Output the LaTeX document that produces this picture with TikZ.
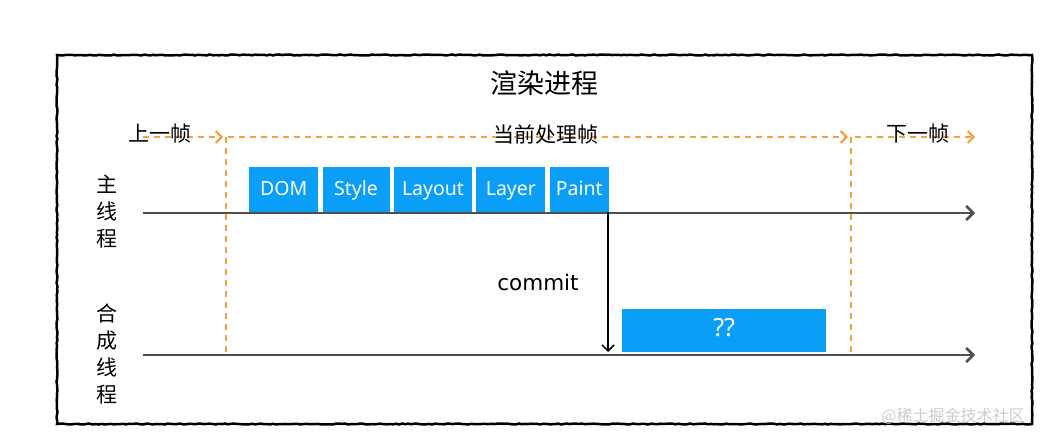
\documentclass[tikz,border=0pt]{standalone}
\usepackage{fontspec}
\setmainfont{Noto Sans}
\newfontfamily\cjk{Noto Sans CJK SC}
\newfontfamily\commitfont{DejaVu Sans}

\usetikzlibrary{positioning,arrows.meta,decorations.pathmorphing}

\definecolor{stageblue}{RGB}{10,158,247}
\definecolor{frameorange}{RGB}{245,160,60}
\definecolor{axisgray}{RGB}{80,80,80}

\tikzset{
  stage/.style={fill=stageblue, text=white, minimum height=45pt, inner sep=0pt,
    text height=15pt, text depth=2pt, font=\fontsize{19.5}{19.5}\selectfont},
  framedash/.style={frameorange, line width=2pt, dash pattern=on 6pt off 5pt},
  framearrow/.style={framedash, -{Straight Barb[length=6pt,width=12pt,line width=2pt]}},
  timeline/.style={axisgray, line width=2.5pt, -{Straight Barb[length=7pt,width=14pt,line width=2.5pt]}},
  cjklabel/.style={font=\cjk\fontsize{21}{27}\selectfont, align=center},
}

\begin{document}
\begin{tikzpicture}[x=1pt, y=-1pt]
\useasboundingbox (0,0) rectangle (1051,443);

% frame and title
\draw[line width=2.5pt, decorate,
  decoration={random steps, segment length=3pt, amplitude=0.5pt}]
  (57,55) rectangle (1032,424);
\node[font=\cjk\fontsize{27}{27}\selectfont] (title) at (544,83) {渲染进程};

% frame borders
\coordinate (prevstart) at (143,137);
\coordinate (curtop) at (226,137);
\coordinate (curbot) at (226,355);
\coordinate (nexttop) at (851,137);
\coordinate (nextbot) at (851,355);
\coordinate (nextend) at (975,137);

\draw[framedash] (curtop) -- (curbot);
\draw[framedash] (nexttop) -- (nextbot);
\draw[framearrow] (prevstart) -- ([xshift=-3pt]curtop);
\draw[framearrow] ([xshift=2pt]curtop) -- ([xshift=-3pt]nexttop);
\draw[framearrow] ([xshift=4pt]nexttop) -- (nextend);

\node[cjklabel] (prev) at (160,134) {上一帧};
\node[cjklabel] (cur) at (546,134) {当前处理帧};
\node[cjklabel] (next) at (918,134) {下一帧};

% threads
\coordinate (mainstart) at (143,213);
\coordinate (mainend) at (975,213);
\coordinate (compstart) at (143,355);
\coordinate (compend) at (975,355);

\draw[timeline] (mainstart) -- (mainend);
\draw[timeline] (compstart) -- (compend);

\node[cjklabel] (mainlabel) at (107,212) {主\\线\\程};
\node[cjklabel] (complabel) at (107,354) {合\\成\\线\\程};

% main thread stages
\node[stage, anchor=south west, minimum width=69pt] (dom) at (249,212) {DOM};
\node[stage, minimum width=67pt, right=4pt of dom] (style) {Style};
\node[stage, minimum width=78pt, right=4pt of style] (layout) {Layout};
\node[stage, minimum width=69pt, right=4pt of layout] (layer) {Layer};
\node[stage, minimum width=59pt, right=4pt of layer] (paint) {Paint};

% compositor
\node[stage, anchor=south west, minimum width=204pt, minimum height=43pt,
  font=\fontsize{25}{25}\selectfont] (unknown) at (622,352) {??};

\draw[line width=1.5pt, -{Straight Barb[length=6pt,width=12pt,line width=1.5pt]}]
  ([xshift=-1pt]paint.south east) -- ([xshift=-1pt]paint.south east |- unknown.south);
\node[font=\commitfont\fontsize{21.5}{21.5}\selectfont] (commit) at (538,282) {commit};

\node[font=\cjk\fontsize{16}{16}\selectfont, text=black!20] (watermark) at (953,416) {@稀土掘金技术社区};

\end{tikzpicture}
\end{document}
